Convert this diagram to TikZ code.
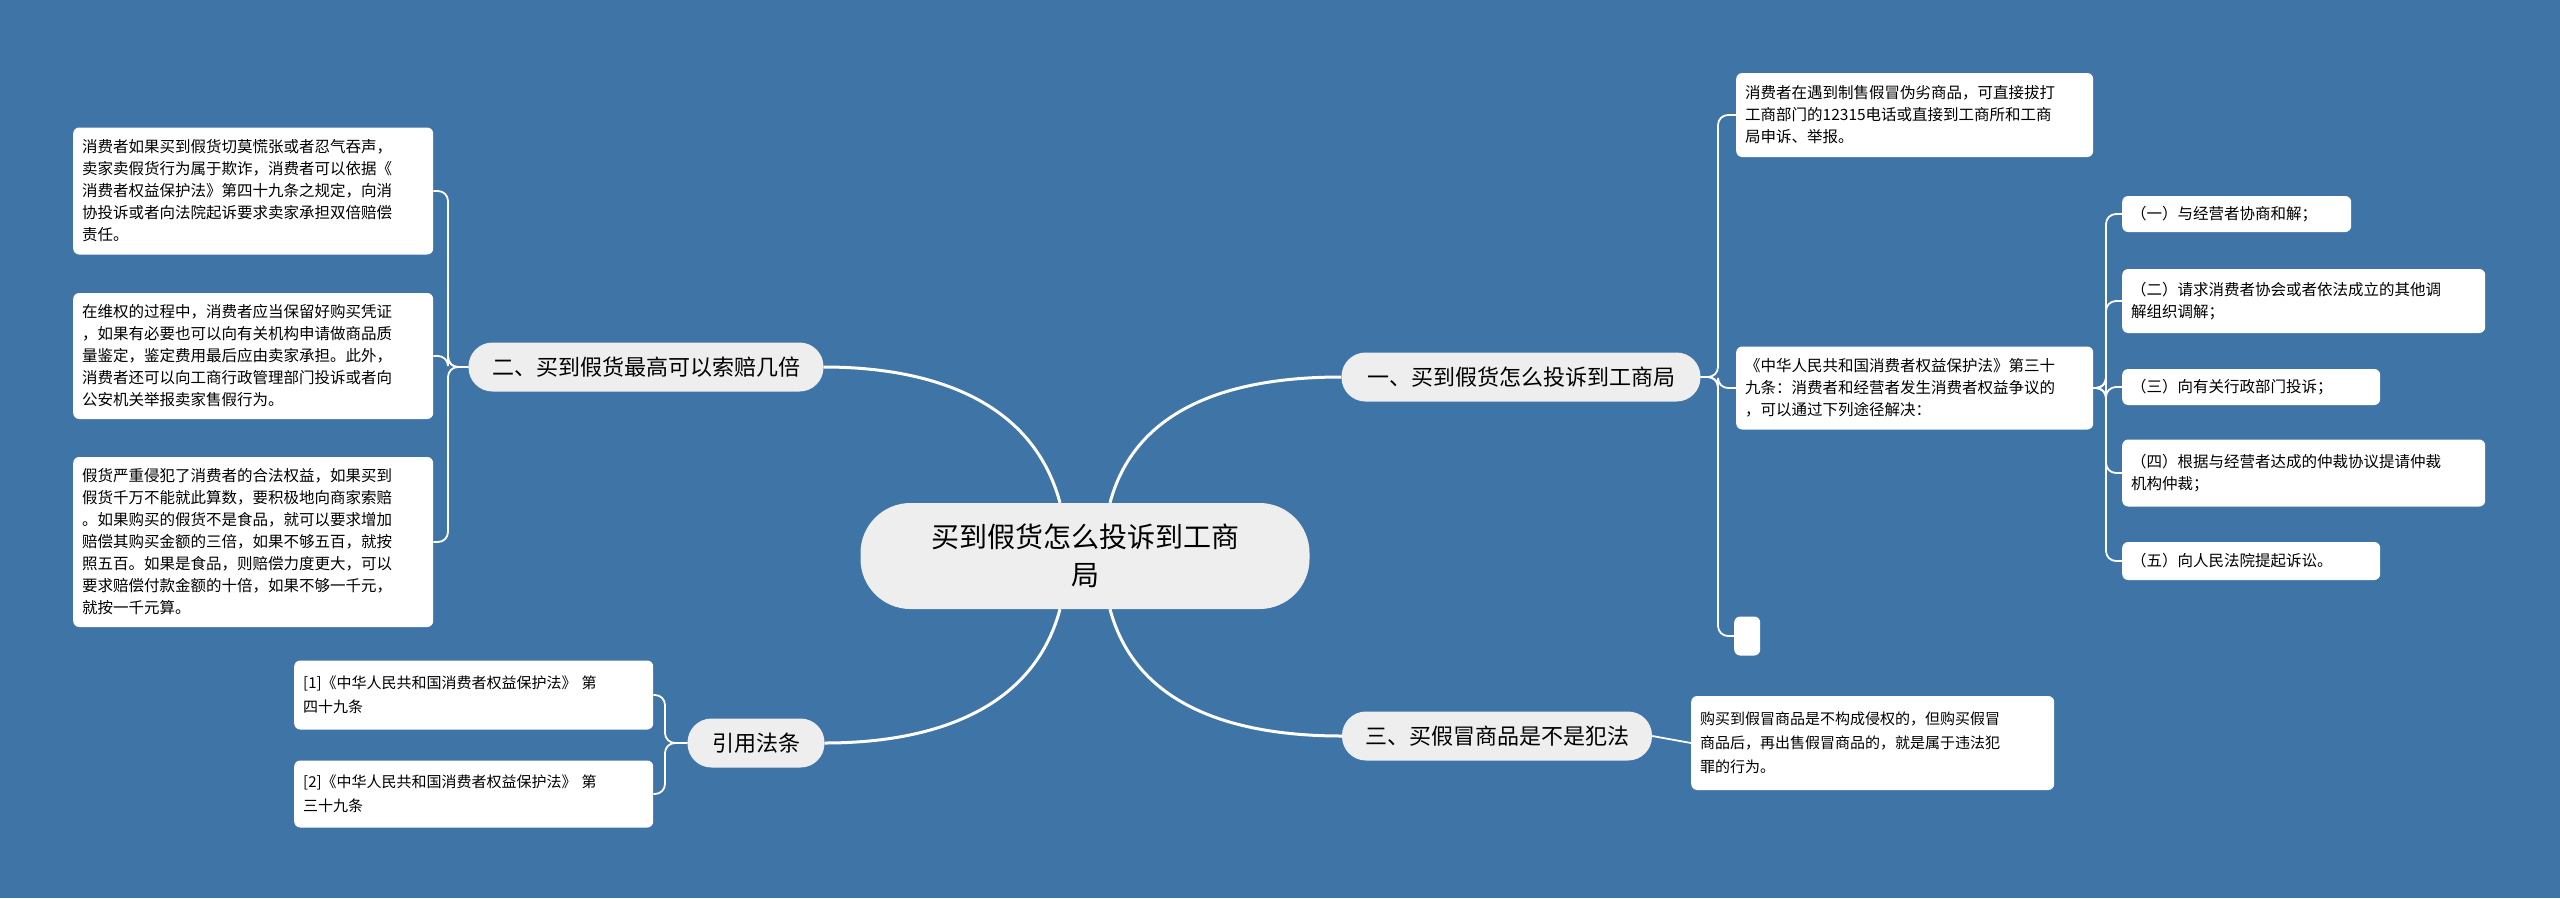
\documentclass[tikz,border=0pt]{standalone}
\usepackage{fontspec}
\setmainfont{Noto Sans CJK SC}
\definecolor{bg}{RGB}{63,116,166}
\definecolor{br}{RGB}{238,238,238}
\begin{document}
\begin{tikzpicture}[x=1pt,y=-1pt,
  leaf/.style={draw=none,fill=white,rounded corners=6pt,anchor=west,align=left,inner xsep=9pt,inner ysep=4pt,font=\fontsize{15.5}{22}\selectfont},
  branch/.style={fill=br,rounded corners=24pt,anchor=center,inner sep=0pt,font=\fontsize{22}{28}\selectfont},
  mainln/.style={draw=white,line width=3pt},
  thin/.style={draw=white,line width=1.8pt,rounded corners=10pt}]
\fill[bg] (0,0) rectangle (2560,898);
\useasboundingbox (0,0) rectangle (2560,898);
% center
\node[fill=br,rounded corners=50pt,minimum width=449pt,minimum height=106pt,align=center,font=\fontsize{28}{38}\selectfont] (cen) at (1085,556) {买到假货怎么投诉到工商\\局};
% branches
\node[branch,minimum width=359pt,minimum height=49pt] (b1) at (1521,377) {一、买到假货怎么投诉到工商局};
\node[branch,minimum width=355pt,minimum height=49pt] (b2) at (646,367) {二、买到假货最高可以索赔几倍};
\node[branch,minimum width=310pt,minimum height=49pt] (b3) at (1497,736) {三、买假冒商品是不是犯法};
\node[branch,minimum width=137pt,minimum height=49pt] (b4) at (756,743) {引用法条};
% left leaves
\node[leaf,text width=342pt,minimum height=127pt] (l1) at (73,191) {消费者如果买到假货切莫慌张或者忍气吞声，\\卖家卖假货行为属于欺诈，消费者可以依据《\\消费者权益保护法》第四十九条之规定，向消\\协投诉或者向法院起诉要求卖家承担双倍赔偿\\责任。};
\node[leaf,text width=342pt,minimum height=126pt] (l2) at (73,356) {在维权的过程中，消费者应当保留好购买凭证\\，如果有必要也可以向有关机构申请做商品质\\量鉴定，鉴定费用最后应由卖家承担。此外，\\消费者还可以向工商行政管理部门投诉或者向\\公安机关举报卖家售假行为。};
\node[leaf,text width=342pt,minimum height=170pt] (l3) at (73,542) {假货严重侵犯了消费者的合法权益，如果买到\\假货千万不能就此算数，要积极地向商家索赔\\。如果购买的假货不是食品，就可以要求增加\\赔偿其购买金额的三倍，如果不够五百，就按\\照五百。如果是食品，则赔偿力度更大，可以\\要求赔偿付款金额的十倍，如果不够一千元，\\就按一千元算。};
% right leaves
\node[leaf,text width=339pt,minimum height=84pt] (r1) at (1736,115) {消费者在遇到制售假冒伪劣商品，可直接拔打\\工商部门的12315电话或直接到工商所和工商\\局申诉、举报。};
\node[leaf,text width=339pt,minimum height=83pt] (r2) at (1736,388) {《中华人民共和国消费者权益保护法》第三十\\九条：消费者和经营者发生消费者权益争议的\\，可以通过下列途径解决：};
\node[leaf,minimum width=26pt,minimum height=39pt,inner sep=0pt] (r3) at (1734,636) {};
\node[leaf,text width=211pt,minimum height=36pt] (s1) at (2122,214) {（一）与经营者协商和解；};
\node[leaf,text width=345pt,minimum height=64pt] (s2) at (2122,301) {（二）请求消费者协会或者依法成立的其他调\\解组织调解；};
\node[leaf,text width=240pt,minimum height=36pt] (s3) at (2122,387) {（三）向有关行政部门投诉；};
\node[leaf,text width=345pt,minimum height=67pt] (s4) at (2122,473) {（四）根据与经营者达成的仲裁协议提请仲裁\\机构仲裁；};
\node[leaf,text width=240pt,minimum height=38pt] (s5) at (2122,561) {（五）向人民法院提起诉讼。};
\node[leaf,text width=345pt,minimum height=94pt,text width=345pt,font=\fontsize{15}{24}\selectfont] (t1) at (1691,743) {购买到假冒商品是不构成侵权的，但购买假冒\\商品后，再出售假冒商品的，就是属于违法犯\\罪的行为。};
\node[leaf,text width=341pt,minimum height=69pt,font=\fontsize{15}{24}\selectfont] (c1) at (294,695) {[1]《中华人民共和国消费者权益保护法》 第\\四十九条};
\node[leaf,text width=341pt,minimum height=67pt,font=\fontsize{15}{24}\selectfont] (c2) at (294,794) {[2]《中华人民共和国消费者权益保护法》 第\\三十九条};
% main connectors
\draw[mainln] ([xshift=25pt]cen.north) to[out=75,in=180] (b1.west);
\draw[mainln] ([xshift=-25pt]cen.north) to[out=105,in=0] (b2.east);
\draw[mainln] ([xshift=25pt]cen.south) to[out=-75,in=180] (b3.west);
\draw[mainln] ([xshift=-25pt]cen.south) to[out=-105,in=0] (b4.east);
% brackets
\foreach \c in {l1,l2,l3} \draw[thin] (b2.west) -| (448,0 |- \c.east) -- (\c.east);
\foreach \c in {r1,r2,r3} \draw[thin] (b1.east) -| (1718,0 |- \c.west) -- (\c.west);
\foreach \c in {s1,s2,s3,s4,s5} \draw[thin] (r2.east) -| (2106,0 |- \c.west) -- (\c.west);
\draw[thin] (b3.east) -- (t1.west);
\foreach \c in {c1,c2} \draw[thin] (b4.west) -| (665,0 |- \c.east) -- (\c.east);
\end{tikzpicture}
\end{document}
